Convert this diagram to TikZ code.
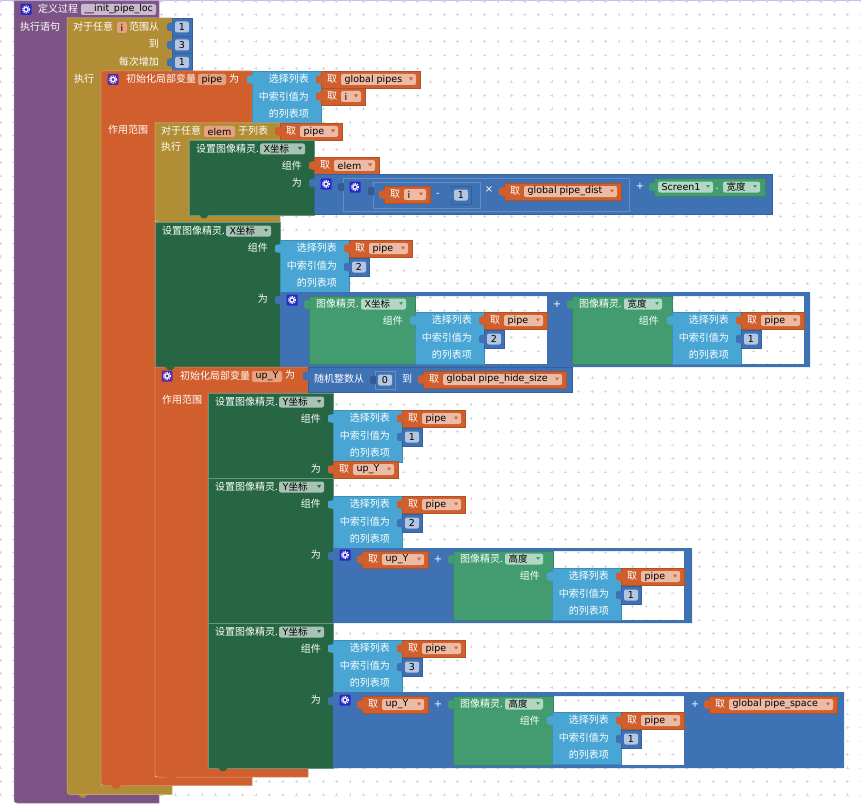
\documentclass[tikz,border=0pt]{standalone}
\usepackage{fontspec}
\setmainfont{Noto Sans CJK SC}
\newfontfamily\latfont{DejaVu Sans}
\newfontfamily\cjkfont{Noto Sans CJK SC}
\usetikzlibrary{positioning}
\definecolor{procpurple}{RGB}{124, 83, 133}
\definecolor{loopgold}{RGB}{177, 142, 53}
\definecolor{varorange}{RGB}{208, 95, 45}
\definecolor{setgreen}{RGB}{38, 102, 67}
\definecolor{compgreen}{RGB}{67, 156, 112}
\definecolor{listblue}{RGB}{73, 166, 212}
\definecolor{mathblue}{RGB}{63, 113, 181}
\definecolor{numface}{RGB}{180, 197, 224}
\definecolor{varface}{RGB}{236, 187, 165}
\definecolor{nameface}{RGB}{230, 160, 130}
\definecolor{setface}{RGB}{168, 194, 179}
\definecolor{compface}{RGB}{179, 215, 197}
\definecolor{procface}{RGB}{203, 186, 206}
\definecolor{gearblue}{RGB}{40, 40, 200}
\definecolor{gearpurple}{RGB}{84, 48, 168}
\definecolor{gridgray}{RGB}{216, 216, 216}
\tikzset{
    blocktext/.style={font=\fontsize{10}{12}\selectfont, text=white, inner sep=0pt, anchor=west},
    righttext/.style={blocktext, anchor=east},
    facetext/.style={font=\fontsize{9.5}{12}\selectfont\latfont, text=black, inner sep=0pt, anchor=west},
    numtext/.style={font=\fontsize{9.5}{12}\selectfont\latfont, text=black, inner sep=0pt},
    optext/.style={font=\fontsize{10}{12}\selectfont\latfont, text=white, inner sep=0pt},
    edge/.style={line width=.5pt},
}
\newcounter{nodeno}
\newcommand{\leftlab}[3]{\stepcounter{nodeno}\node[blocktext] (lab\thenodeno) at (#1,#2) {#3};}
\newcommand{\rightlab}[3]{\stepcounter{nodeno}\node[righttext] (lab\thenodeno) at (#1,#2) {#3};}
\newcommand{\oplab}[3]{\stepcounter{nodeno}\node[optext] (lab\thenodeno) at (#1,#2) {#3};}
% plug on the left side of a value block
\newcommand{\plug}[3]{\fill[#3, rounded corners=1pt] (#1+1,#2-4.5) -- (#1-5,#2-3.5) -- (#1-5,#2+3.5) -- (#1+1,#2+4.5) -- cycle;}
% dent under a statement block
\newcommand{\dent}[3]{\fill[#3] (#1-5,#2-.5) -- (#1-2,#2+3) -- (#1+2,#2+3) -- (#1+5,#2-.5) -- cycle;}
\newcommand{\block}[5]{\draw[edge, fill=#1, draw=#1!85!black] (#2,#3) rectangle (#4,#5);}
% c-shaped block: colour, left, arm, right, top, head bottom, inner bottom, bottom
\newcommand{\cblock}[8]{\draw[edge, fill=#1, draw=#1!70!white] (#2,#5) -- (#4,#5) -- (#4,#6) -- (#3,#6) -- (#3,#7) -- (#4,#7) -- (#4,#8) [rounded corners=3pt] -- (#2,#8) [sharp corners] -- (#2,#5) -- cycle;}
\newcommand{\facebox}[5]{\fill[#4, rounded corners=2pt] (#1,#3-5.5) rectangle (#2,#3+5.5);
    \stepcounter{nodeno}\node[facetext] (face\thenodeno) at (#1+3.5,#3) {#5};}
\newcommand{\dropbox}[6]{\facebox{#1}{#2}{#3}{#4}{#5}
    \fill[#6] (#2-7,#3-2) -- (#2-3,#3-2) -- (#2-5,#3+1) -- cycle;}
\newcommand{\getvar}[4]{\block{varorange}{#1}{#2}{#1+#3}{#2+17}\plug{#1}{#2+8.5}{varorange}
    \leftlab{#1+6}{#2+8}{取}
    \dropbox{#1+20}{#1+#3-4}{#2+8.5}{varface}{#4}{varorange}}
\newcommand{\numblock}[3]{\block{mathblue}{#1}{#2}{#1+20}{#2+18}\plug{#1}{#2+9}{mathblue}
    \fill[numface, rounded corners=2pt] (#1+3,#2+3.5) rectangle (#1+17,#2+14.5);
    \stepcounter{nodeno}\node[numtext] (num\thenodeno) at (#1+10,#2+9) {#3};}
\newcommand{\listframe}[2]{\block{listblue}{#1}{#2}{#1+69}{#2+52}\plug{#1}{#2+8.5}{listblue}
    \rightlab{#1+57}{#2+8}{选择列表}
    \rightlab{#1+57}{#2+26}{中索引值为}
    \rightlab{#1+57}{#2+43}{的列表项}}
% list item with get pipe and a number
\newcommand{\listpick}[3]{\listframe{#1}{#2}
    \getvar{#1+69}{#2}{63}{pipe}
    \numblock{#1+69}{#2+18}{#3}}
\newcommand{\setblock}[4]{\draw[edge, fill=setgreen, draw=setgreen!70!white] (#1,#2) rectangle (#1+125,#3);
    \leftlab{#1+7}{#2+9}{设置图像精灵.}
    \dropbox{#1+71}{#1+116}{#2+9}{setface}{#4{\cjkfont 坐标}}{setgreen}
    \rightlab{#1+113}{#2+26}{组件}}
\newcommand{\compblock}[7]{\block{compgreen}{#1}{#2}{#3}{#4}\plug{#1}{#2+8.5}{compgreen}
    \leftlab{#1+7}{#2+8}{图像精灵.}
    \dropbox{#1+52}{#5}{#2+8}{compface}{#6}{compgreen}
    \rightlab{#7}{#2+25}{组件}}
\newcommand{\gearicon}[3]{\fill[#3, rounded corners=1pt] (#1-5.5,#2-5.5) rectangle (#1+5.5,#2+5.5);
    \draw[white, line width=1.2pt] (#1,#2) circle[radius=2.2pt];
    \draw[white, line width=1pt, dash pattern=on 1.2pt off 1.1pt] (#1,#2) circle[radius=3.6pt];}
\begin{document}
\begin{tikzpicture}[x=1pt, y=-1pt]
    \path[fill=white, use as bounding box] (0,0) rectangle (861,805);
    \fill[blue!25] (0,0) rectangle (861,1.3);
    % grid dots
    \foreach \gx in {0,...,64} \foreach \gy in {0,...,60} {
        \draw[gridgray, line width=.5pt] ({.3+\gx*13.45-1.4},{1.2+\gy*13.45}) -- ++(2.8,0) ({.3+\gx*13.45},{1.2+\gy*13.45-1.4}) -- ++(0,2.8);
    }

    % procedure
    \cblock{procpurple}{14}{67}{159}{1}{18}{785}{803}
    \gearicon{26}{9.5}{gearblue}
    \leftlab{38}{9}{定义过程}
    \facebox{81}{156}{9.5}{procface}{\_\_init\_pipe\_loc}
    \leftlab{20}{27}{执行语句}
    \dent{83}{794.5}{loopgold}

    % loop over i
    \cblock{loopgold}{67}{101}{172}{18}{71}{785}{794.5}
    \leftlab{73}{27}{对于任意}
    \facebox{117}{127}{27.5}{nameface}{i}
    \leftlab{129}{27}{范围从}
    \rightlab{159}{44}{到}
    \rightlab{159}{62}{每次增加}
    \leftlab{74}{79}{执行}
    \numblock{172}{18}{1}
    \numblock{172}{36}{3}
    \numblock{172}{53.5}{1}

    % local pipe
    \cblock{varorange}{101}{155}{252}{71}{123}{777}{785.5}
    \gearicon{113}{79.5}{gearpurple}
    \leftlab{126}{79}{初始化局部变量}
    \facebox{198}{226}{79.5}{nameface}{pipe}
    \leftlab{229}{79}{为}
    \leftlab{108}{130}{作用范围}
    \dent{116}{785.5}{varorange}
    \listframe{252}{71}
    \getvar{321}{71}{99}{global pipes}
    \getvar{321}{88}{44}{i}

    % loop over elem
    \cblock{loopgold}{155}{189}{280}{123}{140}{215}{222}
    \leftlab{161}{131}{对于任意}
    \facebox{204}{235}{131.5}{nameface}{elem}
    \leftlab{238}{131}{于列表}
    \leftlab{161}{147}{执行}
    \getvar{280}{123}{62}{pipe}
    \setblock{189}{140}{215}{X}
    \rightlab{302}{183}{为}
    \dent{204}{215}{setgreen}
    \getvar{314}{157}{65}{elem}
    \block{mathblue}{314}{174}{772}{214}\plug{314}{183}{mathblue}
    \gearicon{326}{184}{gearblue}
    \draw[edge, mathblue!80!white] (343,178) rectangle (629,211);
    \plug{343}{187}{mathblue!80!black}
    \gearicon{355}{187}{gearblue}
    \draw[edge, mathblue!80!white] (373,182) rectangle (480,208);
    \plug{373}{191}{mathblue!80!black}
    \getvar{384}{186}{46}{i}
    \oplab{438}{195}{-}
    \numblock{451}{186}{1}
    \oplab{489}{190}{×}
    \getvar{504}{183}{117}{global pipe\_dist}
    \oplab{640}{186}{+}
    \block{compgreen}{654}{178}{765}{196}\plug{654}{187}{compgreen}
    \dropbox{658}{713}{187}{compface}{Screen1}{compgreen}
    \oplab{717}{189}{.}
    \dropbox{723}{760}{187}{compface}{{\cjkfont 宽度}}{compgreen}

    % set x of the second pipe
    \setblock{155}{222}{367}{X}
    \rightlab{268}{299}{为}
    \listpick{280}{240}{2}
    \plug{280}{300}{mathblue}
    \fill[mathblue, even odd rule] (280,292) rectangle (810,367) (415,296) rectangle (547,364) (672,296) rectangle (804,364);
    \gearicon{292}{300}{gearblue}
    \compblock{309}{296}{415}{364}{406}{X{\cjkfont 坐标}}{403}
    \listpick{415}{312}{2}
    \oplab{557}{304}{+}
    \compblock{572}{296}{672}{364}{662}{{\cjkfont 宽度}}{659}
    \listpick{672}{312}{1}

    % local up_Y
    \cblock{varorange}{155}{208}{308}{367}{393}{768}{777}
    \dent{171}{777}{varorange}
    \dent{170}{367}{setgreen}
    \gearicon{167}{376}{gearpurple}
    \leftlab{180}{376}{初始化局部变量}
    \facebox{252}{282}{376.5}{nameface}{up\_Y}
    \leftlab{285}{375}{为}
    \leftlab{162}{400}{作用范围}
    \block{mathblue}{308}{367}{572}{392}\plug{308}{376}{mathblue}
    \leftlab{314}{379}{随机整数从}
    \draw[edge, mathblue!80!white] (375,371) rectangle (395,389);
    \plug{375}{380}{mathblue!80!black}
    \fill[numface, rounded corners=2pt] (378,374.5) rectangle (392,385.5);
    \node[numtext] (num0) at (385,380) {0};
    \leftlab{402}{379}{到}
    \getvar{423}{371}{143}{global pipe\_hide\_size}

    % set y first
    \setblock{208}{393}{478}{Y}
    \rightlab{321}{469}{为}
    \listpick{333}{410}{1}
    \getvar{333}{461}{65}{up\_Y}
    \dent{223}{478}{setgreen}

    % set y second
    \setblock{208}{478}{623}{Y}
    \rightlab{321}{555}{为}
    \listpick{333}{496}{2}
    \plug{333}{556}{mathblue}
    \fill[mathblue, even odd rule] (333,548) rectangle (692,623) (553,551) rectangle (684,620);
    \gearicon{345}{555}{gearblue}
    \getvar{362}{551}{66}{up\_Y}
    \oplab{438}{559}{+}
    \compblock{453}{551}{553}{620}{543}{{\cjkfont 高度}}{540}
    \listpick{552}{568}{1}
    \dent{223}{623}{setgreen}

    % set y third
    \setblock{208}{623}{768}{Y}
    \rightlab{321}{700}{为}
    \listpick{333}{640}{3}
    \plug{333}{701}{mathblue}
    \fill[mathblue, even odd rule] (333,692) rectangle (844,768) (553,696) rectangle (684,765);
    \gearicon{345}{700}{gearblue}
    \getvar{362}{696}{66}{up\_Y}
    \oplab{438}{704}{+}
    \compblock{453}{696}{553}{765}{543}{{\cjkfont 高度}}{540}
    \listpick{552}{712}{1}
    \oplab{695}{704}{+}
    \getvar{709}{696}{128}{global pipe\_space}
    \dent{223}{768}{setgreen}
\end{tikzpicture}
\end{document}
